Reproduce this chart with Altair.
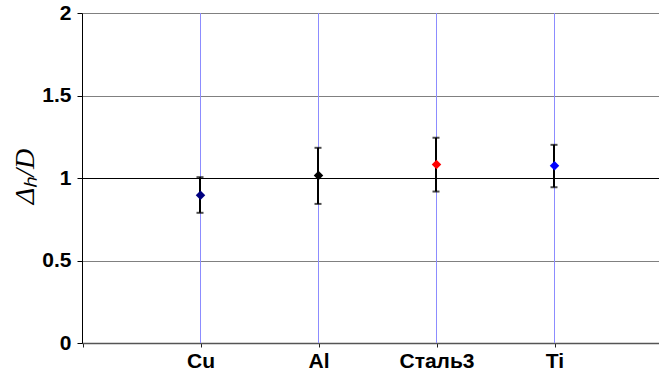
import altair as alt
import pandas as pd

# Materials and measured Δh/D with error-bar limits
materials = ["Cu", "Al", "Сталь3", "Ti"]
ratio = [0.895, 1.015, 1.082, 1.074]
ratio_low = [0.789, 0.843, 0.918, 0.944]
ratio_high = [1.005, 1.183, 1.244, 1.201]
marker_colors = ["#000080", "#000000", "#ff0000", "#0000ff"]

df = pd.DataFrame({
    "material": materials,
    "pos": list(range(1, len(materials) + 1)),
    "ratio": ratio,
    "low": ratio_low,
    "high": ratio_high,
})

label_expr = "{" + ", ".join(f"'{i + 1}': '{m}'" for i, m in enumerate(materials)) + "}[datum.value] || ''"

# 118 px per category step, offset by half a pixel so 1px guides stay crisp
PLOT_W, STEP = 577, 118
x_scale = alt.Scale(domain=[-0.5 / STEP, (PLOT_W - 0.5) / STEP], nice=False, zero=False)
y_scale = alt.Scale(domain=[0, 2], nice=False)

x_axis = alt.Axis(
    values=[0, 1, 2, 3, 4], labelExpr=label_expr, title=None,
    grid=False,
    domainColor="#555555", domainWidth=1.5,
    tickColor="#222222", tickSize=4, tickWidth=1,
    labelFont="Liberation Sans", labelFontWeight="bold", labelFontSize=21,
    labelColor="#000000", labelPadding=3,
)
y_axis = alt.Axis(
    values=[0, 0.5, 1, 1.5, 2], format="~g", title="Δₕ/D",
    grid=True, gridWidth=1,
    gridColor=alt.condition("datum.value === 1", alt.value("#000000"), alt.value("#808080")),
    domainColor="#000000", domainWidth=1,
    tickColor="#000000", tickSize=5, tickWidth=1,
    labelFont="Liberation Sans", labelFontWeight="bold", labelFontSize=21,
    labelColor="#000000", labelPadding=6,
    titleFont="Liberation Serif", titleFontStyle="italic", titleFontWeight="normal",
    titleFontSize=28, titleColor="#000000", titleAngle=270,
    titleX=-57, titleY=163, titleAlign="center", titleBaseline="middle",
)

X = alt.X("pos:Q", scale=x_scale, axis=x_axis)

base = alt.Chart(df)

# light-blue vertical guide at each material
guides = base.mark_rule(color="#8c8cff", strokeWidth=1).encode(x=X)

bars = base.mark_rule(color="#000000", strokeWidth=2, xOffset=-0.5).encode(
    x=X,
    y=alt.Y("low:Q", scale=y_scale, axis=y_axis),
    y2="high:Q",
)
caps_low = base.mark_tick(color="#000000", orient="horizontal", size=7, thickness=2, xOffset=-0.5).encode(
    x=X, y=alt.Y("low:Q", scale=y_scale, axis=y_axis),
)
caps_high = base.mark_tick(color="#000000", orient="horizontal", size=7, thickness=2, xOffset=-0.5).encode(
    x=X, y=alt.Y("high:Q", scale=y_scale, axis=y_axis),
)
points = base.mark_point(shape="diamond", filled=True, size=90, opacity=1).encode(
    x=X,
    y=alt.Y("ratio:Q", scale=y_scale, axis=y_axis),
    color=alt.Color("material:N", scale=alt.Scale(domain=materials, range=marker_colors), legend=None),
)

chart = alt.layer(guides, bars, caps_low, caps_high, points).properties(
    width=PLOT_W, height=330,
    autosize=alt.AutoSizeParams(type="none"),
    padding={"left": 82, "top": 13, "right": 0, "bottom": 33},
).configure_view(stroke=None).configure(background="#ffffff")

chart.save("out.html", embed_options={"renderer": "svg", "actions": False})
